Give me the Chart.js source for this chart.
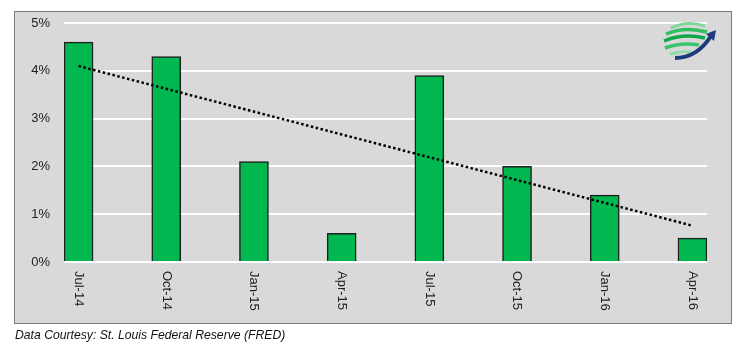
<!DOCTYPE html>
<html>
<head>
<meta charset="utf-8">
<script src="https://cdn.jsdelivr.net/npm/chart.js@4"></script>
<style>
  html, body { margin: 0; padding: 0; background: #fff; }
  #wrap { position: relative; width: 750px; height: 354px; }
  #note { position: absolute; left: 15px; top: 328px; font: italic 12.2px "Liberation Sans", Arial, sans-serif; color: #111; white-space: nowrap; }
  #logo { position: absolute; left: 661px; top: 20px; }
</style>
</head>
<body>
<div id="wrap">
  <canvas id="c"></canvas>
  <svg id="logo" width="58" height="42" viewBox="0 0 58 42">
    <path d="M10 8 Q26 0 44 6" stroke="#7fd69a" stroke-width="3" fill="none"/>
    <path d="M5 14 Q24 6 46 12" stroke="#2fbf5f" stroke-width="3.5" fill="none"/>
    <path d="M3 21 Q22 13 44 18" stroke="#0fa84a" stroke-width="3.5" fill="none"/>
    <path d="M4 28 Q20 22 38 25" stroke="#3cc46a" stroke-width="3.5" fill="none"/>
    <path d="M9 34 Q20 31 30 32" stroke="#8fdca8" stroke-width="3" fill="none"/>
    <path d="M14 38 Q36 38 50 16" stroke="#1f3a7a" stroke-width="4" fill="none"/>
    <path d="M45 14 L55 10 L53 21 Z" fill="#1f3a7a"/>
  </svg>
  <div id="note">Data Courtesy: St. Louis Federal Reserve (FRED)</div>
</div>
<script>
// ── Data ─────────────────────────────────────────────────────
const labels = ['Jul-14', 'Oct-14', 'Jan-15', 'Apr-15', 'Jul-15', 'Oct-15', 'Jan-16', 'Apr-16'];
const values = [4.6, 4.3, 2.1, 0.6, 3.9, 2.0, 1.4, 0.5];
const trendIdx = [0, 7];
const trendVals = [4.1, 0.76];
const yTicks = [0, 1, 2, 3, 4, 5];

// ── Frame + rotated x labels ─────────────────────────────────
const frame = {
  id: 'frame',
  beforeDraw(chart) {
    const ctx = chart.ctx;
    ctx.save();
    ctx.fillStyle = '#d9d9d9';
    ctx.fillRect(14, 11, 717, 313);
    ctx.strokeStyle = '#7a7a7a';
    ctx.lineWidth = 1;
    ctx.strokeRect(14.5, 11.5, 717, 312);
    ctx.restore();
  },
  afterDraw(chart) {
    const ctx = chart.ctx, xs = chart.scales.x;
    ctx.save();
    ctx.fillStyle = '#222';
    ctx.font = '13px "Liberation Sans", Arial, sans-serif';
    ctx.textAlign = 'left';
    ctx.textBaseline = 'middle';
    labels.forEach((l, i) => {
      ctx.save();
      ctx.translate(xs.getPixelForValue(i), 271);
      ctx.rotate(Math.PI / 2);
      ctx.fillText(l, 0, 0);
      ctx.restore();
    });
    ctx.restore();
  }
};

new Chart(document.getElementById('c'), {
  data: {
    datasets: [
      { type: 'line', data: trendIdx.map((x, i) => ({ x, y: trendVals[i] })),
        borderColor: '#000', borderWidth: 2.5, borderDash: [2.5, 2.5], pointRadius: 0, order: 0 },
      { type: 'bar', data: values.map((y, x) => ({ x, y })),
        backgroundColor: '#00b84f', borderColor: '#1e1e1e', borderWidth: 1.5, barThickness: 29, order: 1 }
    ]
  },
  options: {
    responsive: true, maintainAspectRatio: false, animation: false,
    layout: { padding: { left: 14, top: 23, right: 43, bottom: 92 } },
    plugins: { legend: { display: false }, tooltip: { enabled: false } },
    scales: {
      x: { type: 'linear', display: false, offset: false, min: -0.166, max: 7.166 },
      y: {
        min: 0, max: 5,
        afterFit: s => { s.width = 50; },
        afterBuildTicks: s => { s.ticks = yTicks.map(v => ({ value: v })); },
        border: { display: false },
        grid: { color: '#ffffff', lineWidth: 2, drawTicks: false },
        ticks: { padding: 14, color: '#222', font: { size: 13, family: '"Liberation Sans", Arial, sans-serif' },
                 callback: v => v + '%' }
      }
    }
  },
  plugins: [frame]
});
</script>
</body>
</html>
